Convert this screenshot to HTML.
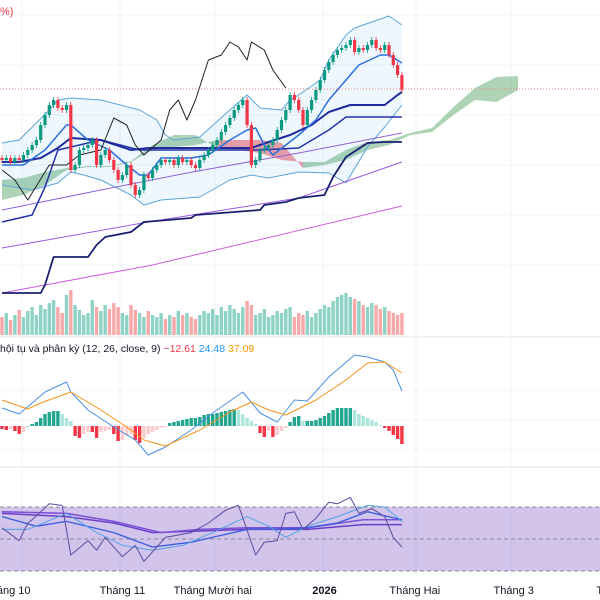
<!DOCTYPE html>
<html><head><meta charset="utf-8"><style>
html,body{margin:0;padding:0;background:#fff;width:600px;height:600px;overflow:hidden}
svg{display:block}
text{font-family:"Liberation Sans","DejaVu Sans",sans-serif}
</style></head><body>
<svg id="chart" width="600" height="600" viewBox="0 0 600 600">
<g id="grid"></g>
<g id="main"></g>
<g id="vol"></g>
<g id="macd"></g>
<g id="rsi"></g>
<g id="axis"></g>
</svg>
<script>
// ---- price data (bar index based) ----
const closes=[140,142,138,142,140,145,150,155,160,175,185,195,200,192,190,195,130,135,150,152,155,160,135,145,150,140,130,120,125,135,115,105,110,125,122,130,135,140,138,140,135,142,138,140,135,132,140,145,150,155,160,168,175,182,190,195,200,175,135,140,150,152,155,160,170,180,190,205,200,190,175,190,200,210,220,230,238,245,250,252,255,260,248,252,250,255,260,252,250,255,245,235,225,210];
const volumes=[18,22,15,20,25,18,24,28,20,30,26,32,35,28,22,40,45,30,25,20,22,35,28,24,30,26,32,28,22,20,30,25,22,18,24,20,18,22,16,20,18,24,20,22,18,16,20,24,22,26,20,28,24,30,26,22,28,34,30,20,22,26,18,20,24,22,26,28,18,22,20,24,18,22,26,30,28,34,38,40,42,38,36,34,30,28,32,30,26,28,24,22,20,22];
const chikouIdx=[0,3,6,11,15,18,23,26,29,31,33,37,39,41,43,45,48,51,53,55,57,58,61,63,66];
const chikouVal=[130,120,100,135,135,145,150,182,175,155,145,160,190,200,180,200,240,245,258,253,240,258,250,230,212];
const bbUpIdx=[0,4,11,13,16,23,32,36,38,40,46,53,57,60,65,67,69,74,76,80,82,90,93];
const bbUpVal=[157,160,190,200,202,200,190,180,165,160,163,190,205,192,190,200,205,220,240,265,272,284,275];
const bbLoIdx=[0,7,13,16,19,23,30,33,37,46,53,58,62,69,76,80,85,89,93];
const bbLoVal=[115,110,117,128,125,120,105,95,100,103,120,125,122,128,127,117,153,173,195];
const tenkanIdx=[0,5,10,15,16,20,25,29,32,34,37,44,48,53,57,59,61,63,66,69,73,76,80,83,88,90,93];
const tenkanVal=[135,135,150,175,175,160,150,135,125,125,142,142,145,160,170,172,155,145,155,165,180,200,220,235,245,245,237];
const kijunIdx=[0,4,9,13,16,23,30,34,58,62,67,72,76,81,89,92,93];
const kijunVal=[138,138,142,152,162,160,150,152,152,158,165,175,188,195,195,205,208];
const navy2Idx=[0,7,10,13,23,32,46,60,69,76,80,93];
const navy2Val=[78,85,113,150,160,150,150,150,152,170,183,183];
const stepIdx=[0,9,10,12,20,22,24,30,33,44,45,60,61,66,69,75,77,80,85,89,93];
const stepVal=[7,7,15,43,43,55,63,68,78,82,85,90,95,98,102,105,123,143,157,158,158];
const ma1Idx=[0,23,43,69,93], ma1Val=[90,110,127,147,167];
const ma2Idx=[0,34,69,93], ma2Val=[52,78,102,138];
const ma3Idx=[0,35,93], ma3Val=[7,35,94];
const cloudIdx=[0,5,10,15,20,25,30,35,40,45,50,55,60,65,70,75,80,85,90,95,100,105,110,115,120];
const spanA=[120,122,128,132,134,134,139,155,165,165,152,150,147,140,138,138,150,158,160,167,172,193,212,223,224];
const spanB=[100,105,115,130,133,133,138,150,153,155,160,160,160,157,132,135,140,150,155,165,168,185,200,198,210];
// ---- MACD data ----
const hist=[-3,-4,-3,-5,-8,-6,0,2,4,8,12,14,15,15,12,8,5,-10,-12,-8,-6,-6,-12,-6,-5,-4,-8,-15,-14,-10,-8,-14,-17,-12,-8,-6,-4,-2,-1,3,4,5,6,7,8,8,9,11,12,12,13,14,15,16,17,16,12,8,5,2,-7,-11,-5,-11,-9,-5,-2,4,9,10,5,5,5,6,8,10,13,16,18,18,18,18,16,12,10,8,6,4,1,-2,-5,-9,-13,-18];
const macdIdx=[0,4,10,15,16,20,26,31,34,38,44,49,56,60,64,68,71,76,82,85,89,91,93];
const macdVal=[18,12,34,44,34,16,-1,-14,-29,-21,-4,13,34,13,4,26,25,49,71,69,64,56,35];
const sigIdx=[0,6,9,16,23,29,33,38,46,53,58,62,66,73,80,85,89,93];
const sigVal=[26,17,23,34,16,-1,-14,-20,-4,14,24,16,11,26,46,63,64,53];
// ---- RSI data ----
const rsiIdx=[0,4,6,7,11,14,16,20,22,24,28,31,33,38,44,48,52,55,59,61,64,66,68,70,73,76,78,81,83,86,89,91,93];
const rsiVal=[57,49,60,62,72,71,40,49,43,51,39,46,36,51,54,60,68,71,40,48,49,66,67,56,63,73,72,76,66,69,64,51,45];
const rsiMa1Idx=[0,6,15,22,28,35,42,49,57,62,66,71,78,85,89,93];
const rsiMa1Val=[56,56,66,54,46,43,46,54,64,58,51,58,64,71,70,61];
const rsiMa2Idx=[0,8,15,26,35,44,57,64,71,78,85,93];
const rsiMa2Val=[64,58,61,54,45,48,56,56,57,60,67,62];
const rsiMa3Idx=[0,15,26,37,46,57,71,84,93];
const rsiMa3Val=[67,66,61,54,56,57,57,62,62];
const rsiMa4Idx=[0,15,26,35,57,71,84,93];
const rsiMa4Val=[66,64,60,54,56,56,59,59];
const xLabels=["háng 10","Tháng 11","Tháng Mười hai","2026","Tháng Hai","Tháng 3","T"];
const xLabelIdx=[2,28,49,75,96,119,139];

const NS="http://www.w3.org/2000/svg";
const xS=i=>2+i*4.3;
const yP=p=>300-p;
const yVol=v=>335-v;
const yM=v=>426-v;
const yR=v=>539-(v-50)*1.6;
function mk(tag,parent,attrs){const e=document.createElementNS(NS,tag);for(const k in attrs)e.setAttribute(k,attrs[k]);parent.appendChild(e);return e;}
function pts(idx,val,ys){return idx.map((i,k)=>xS(i).toFixed(1)+","+ys(val[k]).toFixed(1)).join(" ");}
function line(parent,idx,val,ys,color,w,name){const e=mk("polyline",parent,{points:pts(idx,val,ys),fill:"none",stroke:color,"stroke-width":w,"stroke-linejoin":"round"});


return e;}

const grid=document.getElementById("grid");
[22,120,215,323,416,511].forEach(x=>{const g=mk("line",grid,{x1:x,x2:x,y1:0,y2:575,stroke:"#f0f3fa","stroke-width":1});

});
[15,65,115,165,215,265,390,420,450].forEach(y=>{const g=mk("line",grid,{x1:0,x2:600,y1:y,y2:y,stroke:"#f3f5fa","stroke-width":1});

});

const main=document.getElementById("main");
// cloud
for(let k=0;k<cloudIdx.length-1;k++){
  const a0=spanA[k],a1=spanA[k+1],b0=spanB[k],b1=spanB[k+1];
  const green=(a0+a1)>=(b0+b1);
  const p=mk("polygon",main,{points:`${xS(cloudIdx[k])},${yP(a0)} ${xS(cloudIdx[k+1])},${yP(a1)} ${xS(cloudIdx[k+1])},${yP(b1)} ${xS(cloudIdx[k])},${yP(b0)}`,fill:green?"rgba(76,160,90,0.45)":"rgba(235,80,90,0.55)",stroke:"none"});
  
  
}
// bollinger fill
const bbFill=mk("polygon",main,{points:pts(bbUpIdx,bbUpVal,yP)+" "+pts(bbLoIdx.slice().reverse(),bbLoVal.slice().reverse(),yP),fill:"rgba(33,150,243,0.08)",stroke:"none"});


line(main,bbUpIdx,bbUpVal,yP,"#5ba4d8",1,"bollinger-upper");
line(main,bbLoIdx,bbLoVal,yP,"#5ba4d8",1,"bollinger-lower");
line(main,ma3Idx,ma3Val,yP,"#d05ce0",1,"ma-long");
line(main,ma2Idx,ma2Val,yP,"#9b59e0",1,"ma-mid");
line(main,ma1Idx,ma1Val,yP,"#8e63d8",1,"ma-short");
line(main,stepIdx,stepVal,yP,"#1a1f6e",1.8,"long-step-line");
line(main,navy2Idx,navy2Val,yP,"#2434a8",1.5,"kijun-line-2");
line(main,kijunIdx,kijunVal,yP,"#1f2a9e",2,"kijun-line");
line(main,tenkanIdx,tenkanVal,yP,"#2a6fdb",1.5,"tenkan-line");
line(main,chikouIdx,chikouVal,yP,"#222",1,"chikou-line");
// candles
closes.forEach((c,i)=>{
  const o=i===0?142:closes[i-1];
  const up=c>=o;const col=up?"#089981":"#f23645";
  const x=xS(i);
  const w=mk("line",main,{x1:x,x2:x,y1:yP(Math.max(o,c)+3),y2:yP(Math.min(o,c)-3),stroke:col,"stroke-width":0.8});
  
  
  const r=mk("rect",main,{x:x-1.6,y:yP(Math.max(o,c)),width:3.2,height:Math.max(1,Math.abs(c-o)),fill:col});
  
  
});
const dl=mk("line",main,{x1:0,x2:600,y1:89,y2:89,stroke:"#f08080","stroke-width":1,"stroke-dasharray":"1,2"});


const pt=mk("text",main,{x:0,y:15,"font-size":"11",fill:"#f23645"});pt.textContent="%)";



// volume
const vol=document.getElementById("vol");
volumes.forEach((v,i)=>{
  const o=i===0?142:closes[i-1];
  const r=mk("rect",vol,{x:xS(i)-1.7,y:yVol(v),width:3.4,height:v,fill:closes[i]>=o?"#8fd3c6":"#f7a9a9"});
  
  
});

const sep1=mk("line",document.getElementById("chart"),{x1:0,x2:600,y1:337,y2:337,stroke:"#e0e3eb","stroke-width":1});


const sep2=mk("line",document.getElementById("chart"),{x1:0,x2:600,y1:467,y2:467,stroke:"#e0e3eb","stroke-width":1});



// MACD
const macd=document.getElementById("macd");
hist.forEach((h,i)=>{
  const prev=i===0?h:hist[i-1];
  let col;
  if(h>=0) col=h>=prev?"#22a68f":"#ace5dc"; else col=h<=prev?"#f23645":"#fccbcd";
  const r=mk("rect",macd,{x:xS(i)-1.7,y:Math.min(yM(h),yM(0)),width:3.4,height:Math.max(0.5,Math.abs(h)),fill:col});
  
  
});
line(macd,macdIdx,macdVal,yM,"#4a90e2",1,"macd-line");
line(macd,sigIdx,sigVal,yM,"#f7931e",1,"signal-line");
const lg=mk("text",macd,{x:0,y:352,"font-size":"10.5",fill:"#131722"});


lg.innerHTML='hội tụ và phân kỳ (12, 26, close, 9) <tspan fill="#f23645">−12.61</tspan> <tspan fill="#2196f3">24.48</tspan> <tspan fill="#ff9800">37.09</tspan>';

// RSI
const rsi=document.getElementById("rsi");
const band=mk("rect",rsi,{x:0,y:yR(70),width:600,height:yR(30)-yR(70),fill:"rgba(126,87,194,0.35)"});


[70,50,30].forEach(v=>{const d=mk("line",rsi,{x1:0,x2:600,y1:yR(v),y2:yR(v),stroke:"#8a8a9a","stroke-width":1,"stroke-dasharray":"4,3"});

});
line(rsi,rsiMa4Idx,rsiMa4Val,yR,"#6a3fc8",1.5,"rsi-ma-4");
line(rsi,rsiMa3Idx,rsiMa3Val,yR,"#7b4fd6",1.5,"rsi-ma-3");
line(rsi,rsiMa2Idx,rsiMa2Val,yR,"#3a5be0",1.3,"rsi-ma-2");
line(rsi,rsiMa1Idx,rsiMa1Val,yR,"#4fa3e8",1,"rsi-ma-1");
line(rsi,rsiIdx,rsiVal,yR,"#5b4aa0",1,"rsi-line");

// axis labels
const axis=document.getElementById("axis");
xLabels.forEach((t,k)=>{
  const e=mk("text",axis,{x:xS(xLabelIdx[k]),y:594,"font-size":"11","text-anchor":"middle",fill:"#131722","font-weight":t==="2026"?"bold":"normal"});
  e.textContent=t;
  
  
});
</script>
</body></html>
